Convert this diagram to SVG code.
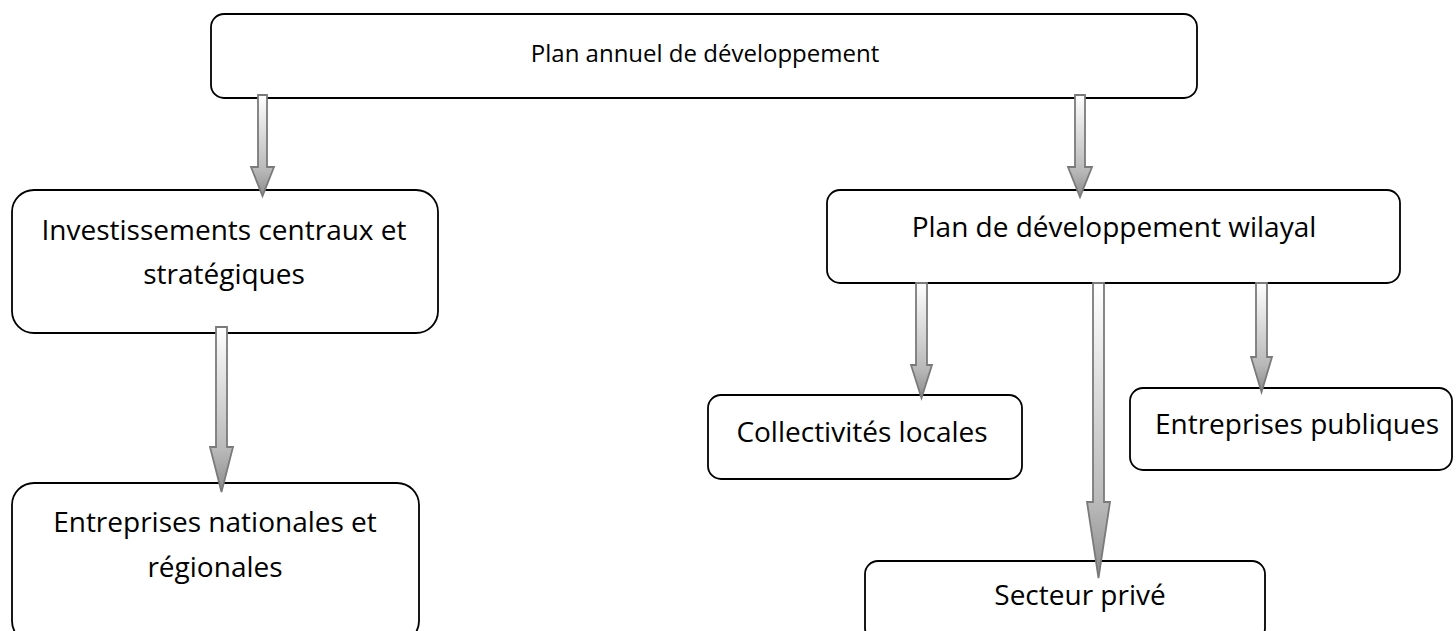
<svg xmlns="http://www.w3.org/2000/svg" width="1456" height="631" viewBox="0 0 1456 631">
<defs>
<linearGradient id="ag" x1="0" y1="0" x2="0" y2="1">
<stop offset="0" stop-color="#ffffff"/>
<stop offset="0.75" stop-color="#b8b8b8"/>
<stop offset="1" stop-color="#8c8c8c"/>
</linearGradient>
</defs>
<style>
.box{fill:#fff;stroke:#000;stroke-width:1.8}
.t{font-family:"Open Sans","Liberation Sans",sans-serif;font-size:28px;fill:#000;text-anchor:middle}
.ts{font-size:24px}
.arr{fill:url(#ag);stroke:#7a7a7a;stroke-width:1.8;stroke-linejoin:miter}
</style>
<g id="n-plan-annuel">
<rect class="box" x="211" y="14" width="986" height="84" rx="13"/>
<text class="t ts" x="705" y="62">Plan annuel de développement</text>
</g>
<g id="n-investissements">
<rect class="box" x="12" y="190" width="426" height="143" rx="22"/>
<text class="t" x="224" y="240">Investissements centraux et</text>
<text class="t" x="224" y="284">stratégiques</text>
</g>
<g id="n-entreprises-nationales">
<rect class="box" x="12" y="483" width="407" height="160" rx="22"/>
<text class="t" x="215" y="532">Entreprises nationales et</text>
<text class="t" x="215" y="577">régionales</text>
</g>
<g id="n-plan-wilayal">
<rect class="box" x="827" y="190" width="573" height="93" rx="13"/>
<text class="t" x="1114" y="237">Plan de développement wilayal</text>
</g>
<g id="n-collectivites">
<rect class="box" x="708" y="395" width="314" height="84" rx="13"/>
<text class="t" x="862" y="442">Collectivités locales</text>
</g>
<g id="n-entreprises-publiques">
<rect class="box" x="1130" y="388" width="322" height="82" rx="13"/>
<text class="t" x="1297" y="434">Entreprises publiques</text>
</g>
<g id="n-secteur-prive">
<rect class="box" x="865" y="561" width="400" height="80" rx="13"/>
<text class="t" x="1080" y="605">Secteur privé</text>
</g>
<g id="connectors">
<polygon class="arr" points="258,95 267,95 267,167 274,167 262.5,196 251,167 258,167"/>
<polygon class="arr" points="216,327 227,327 227,447 233,447 221.5,492 210,447 216,447"/>
<polygon class="arr" points="1075,95 1085,95 1085,167 1092,167 1080,197 1068,167 1075,167"/>
<polygon class="arr" points="1093,283 1104,283 1104,502 1110,502 1098.5,578 1087,502 1093,502"/>
<polygon class="arr" points="916,283 927,283 927,365 932,365 921.5,398 911,365 916,365"/>
<polygon class="arr" points="1256,283 1267,283 1267,357 1272,357 1261.5,392 1251,357 1256,357"/>
</g>
</svg>
